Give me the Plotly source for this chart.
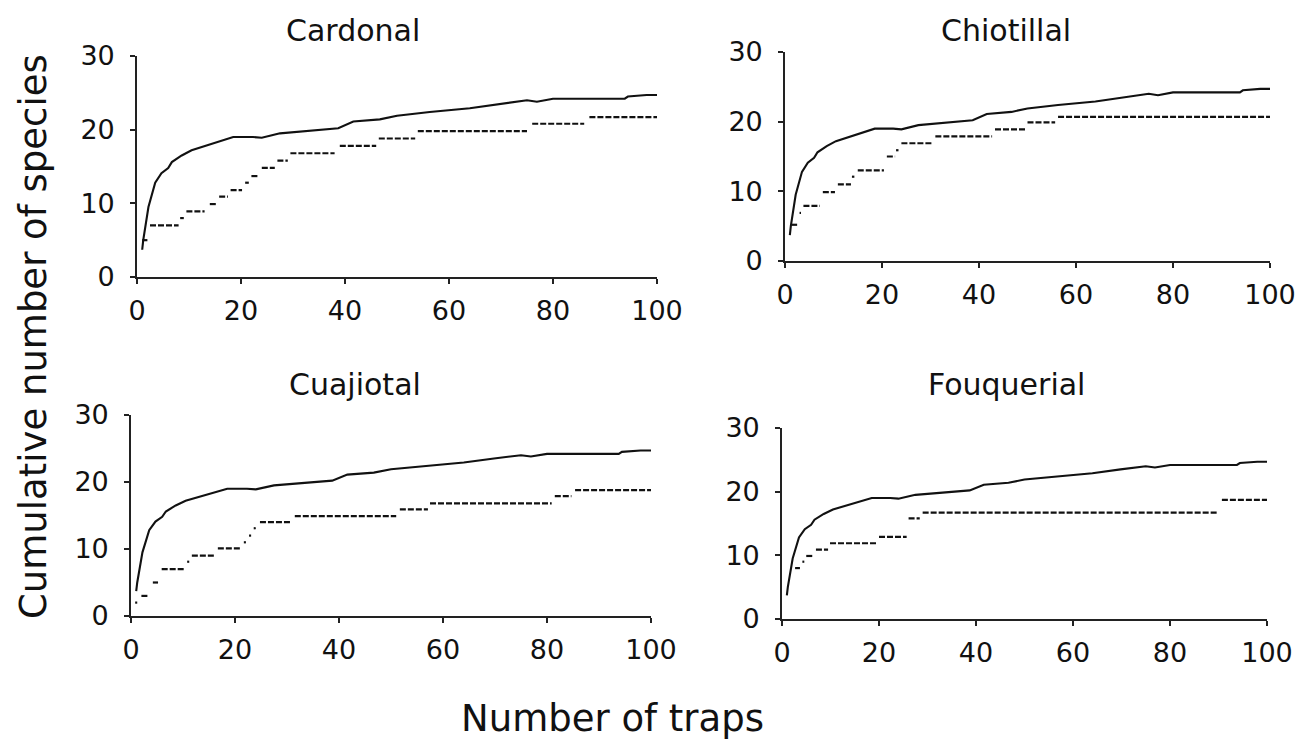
import plotly.graph_objects as go

# ---------------- data ----------------
panel_names = ["Cardonal", "Chiotillal", "Cuajiotal", "Fouquerial"]

# solid accumulation curve (identical in the four panels)
solid_x = [1, 1.2, 2.2, 2.8, 3.5, 4.7, 6, 6.7, 8.6, 10.5, 12.8, 16, 18.5, 22.3, 24,
           27.5, 33.8, 38.7, 41.6, 46.7, 50, 56.3, 64, 69.8, 75, 76.9, 80, 93.8, 94.4, 98, 100]
solid_y = [3.7, 5.0, 9.5, 11.2, 12.8, 14.1, 14.8, 15.6, 16.5, 17.2, 17.7, 18.4, 19.0, 19.0, 18.9,
           19.5, 19.9, 20.2, 21.1, 21.4, 21.9, 22.4, 22.9, 23.5, 24.0, 23.8, 24.2, 24.2, 24.5, 24.7, 24.7]

# dashed step curves: start trap, end trap, level
cardonal_start = [1, 2.5, 8.3, 9.5, 14, 15.8, 18, 20.8, 22, 24, 27, 29.5, 39, 46.5, 54, 76, 87]
cardonal_end   = [2, 8, 9.0, 13, 15.2, 17.5, 20.2, 21.5, 23.5, 26.5, 29, 38, 46, 53.5, 75, 86, 100]
cardonal_level = [5, 7, 8, 8.9, 9.9, 10.9, 11.8, 12.8, 13.7, 14.8, 15.8, 16.8, 17.8, 18.8, 19.8, 20.8, 21.7]

chiotillal_start = [1.4, 3.0, 3.8, 7.8, 10.9, 13.8, 15, 21, 22.9, 24, 31, 43.3, 50, 56.3]
chiotillal_end   = [2.5, 3.3, 7.2, 10.3, 13.6, 14.3, 20.4, 22.7, 23.4, 30.5, 42.7, 49.7, 55.7, 100]
chiotillal_level = [5.2, 6.9, 7.9, 9.9, 11.0, 12.1, 13.0, 15.0, 15.9, 16.9, 17.9, 18.9, 19.9, 20.7]

cuajiotal_start = [0.8, 2, 4.2, 5.9, 10.8, 11.7, 16.7, 21.7, 22.7, 23.6, 24.8, 31.5, 51.7, 57.5, 81.5, 85.4]
cuajiotal_end   = [1.2, 3.3, 5.2, 10.4, 11.2, 16.2, 21.3, 22.1, 23.1, 24.0, 30.9, 51.0, 57.1, 80.9, 84.7, 100]
cuajiotal_level = [2.0, 3.0, 5.0, 7.0, 8.1, 9.0, 10.1, 11.0, 12.0, 13.1, 14.0, 14.9, 15.9, 16.8, 17.9, 18.8]

fouquerial_start = [2.7, 4.2, 5.0, 7.0, 9.9, 20.0, 26.1, 29.0, 90.7]
fouquerial_end   = [3.7, 4.6, 6.4, 9.5, 19.5, 25.7, 28.4, 90.0, 100]
fouquerial_level = [8.0, 9.0, 9.9, 10.9, 11.9, 12.9, 15.8, 16.7, 18.7]

x_ticks = [0, 20, 40, 60, 80, 100]
y_ticks = [0, 10, 20, 30]

steps = [
    (cardonal_start, cardonal_end, cardonal_level),
    (chiotillal_start, chiotillal_end, chiotillal_level),
    (cuajiotal_start, cuajiotal_end, cuajiotal_level),
    (fouquerial_start, fouquerial_end, fouquerial_level),
]

# ---------------- layout geometry (paper fractions) ----------------
W, H = 1308, 743
# (left px, right px, top px, bottom px) of each plotting area
boxes = [(137, 657, 56, 277), (785, 1270, 52, 261), (131, 651, 415, 616), (782, 1267, 428, 619)]
title_pos = [(353, 30), (1006, 30), (355, 384), (1006, 384)]

FONT = "DejaVu Sans, Liberation Sans, Arial"
INK = "#111111"

fig = go.Figure()
layout = dict(width=W, height=H, margin=dict(l=0, r=0, t=0, b=0, autoexpand=False),
              template="none",
              paper_bgcolor="white", plot_bgcolor="white", showlegend=False,
              font=dict(family=FONT, color=INK))
annotations = []

for i, (name, box, (s, e, lv)) in enumerate(zip(panel_names, boxes, steps)):
    k = "" if i == 0 else str(i + 1)
    xa, ya = "x" + k, "y" + k
    fig.add_trace(go.Scatter(x=solid_x, y=solid_y, mode="lines", xaxis=xa, yaxis=ya,
                             line=dict(color=INK, width=2.1), hoverinfo="skip"))
    sx, sy = [], []
    for a, b, v in zip(s, e, lv):
        sx += [a, b, None]
        sy += [v, v, None]
    fig.add_trace(go.Scatter(x=sx, y=sy, mode="lines", xaxis=xa, yaxis=ya,
                             line=dict(color=INK, width=2.2, dash="6px,2px"), hoverinfo="skip"))
    l, r, t, b = box
    axis_common = dict(showline=True, linecolor="#222222", linewidth=1.6, ticks="outside",
                       ticklen=5, tickwidth=1.5, tickcolor="#222222", showgrid=False,
                       zeroline=False, automargin=False,
                       tickfont=dict(family=FONT, size=27, color=INK))
    layout["xaxis" + k] = dict(domain=[l / W, r / W], range=[0, 100], tickvals=x_ticks,
                               anchor=ya, ticklabelstandoff=4, **axis_common)
    layout["yaxis" + k] = dict(domain=[1 - b / H, 1 - t / H], range=[0, 30], tickvals=y_ticks,
                               anchor=xa, ticklabelstandoff=10, **axis_common)
    tx, ty = title_pos[i]
    annotations.append(dict(text=name, x=tx / W, y=1 - ty / H, xref="paper", yref="paper",
                            xanchor="center", yanchor="middle", showarrow=False,
                            font=dict(family=FONT, size=30, color=INK)))

annotations.append(dict(text="Cumulative number of species", x=34 / W, y=1 - 337 / H,
                        xref="paper", yref="paper", xanchor="center", yanchor="middle",
                        textangle=-90, showarrow=False, font=dict(family=FONT, size=37, color=INK)))
annotations.append(dict(text="Number of traps", x=612 / W, y=1 - 718 / H,
                        xref="paper", yref="paper", xanchor="center", yanchor="middle",
                        showarrow=False, font=dict(family=FONT, size=37, color=INK)))
layout["annotations"] = annotations
fig.update_layout(**layout)
fig.write_html("out.html")
